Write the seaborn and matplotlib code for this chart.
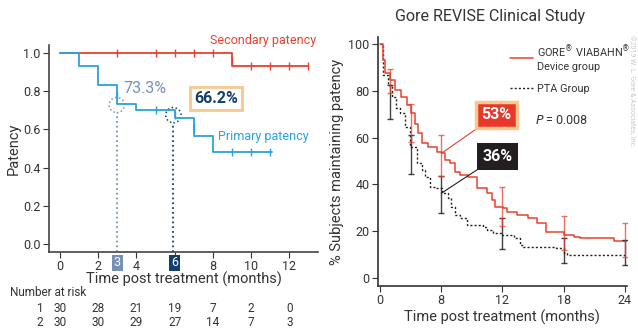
import matplotlib
matplotlib.use("Agg")
import matplotlib.pyplot as plt
import matplotlib.transforms as mtransforms
from matplotlib.patches import Ellipse
import seaborn as sns
import pandas as pd

RED = "#e8412f"
BLUE = "#2aa2dc"
BLACK = "#231f20"
NAVY = "#143f6b"
SLATE = "#7690b4"
ORANGE = "#f7c98f"

# left panel: Kaplan-Meier steps
primary_t = [0, 1, 2, 3, 4, 6, 7, 8, 11.1]
primary_s = [1.0, 0.933, 0.833, 0.733, 0.70, 0.662, 0.565, 0.483, 0.483]
primary_cens_t = [3, 5, 6, 7, 9, 10, 11]
primary_cens_s = [0.78, 0.70, 0.675, 0.61, 0.483, 0.483, 0.483]

secondary_t = [0, 9, 13]
secondary_s = [1.0, 0.932, 0.932]
secondary_cens_t = [3, 5, 6, 7, 8, 9, 10, 11, 12, 13]
secondary_cens_s = [1, 1, 1, 1, 1, 0.96, 0.932, 0.932, 0.932, 0.932]

risk_times = [0, 2, 4, 6, 8, 10, 12]
risk_row1 = [30, 28, 21, 19, 7, 2, 0]
risk_row2 = [30, 30, 29, 27, 14, 7, 3]

# right panel: REVISE curves (x in axis positions, labelled 0/8/12/18/24)
gore_t = [0, 0.26, 0.5, 1.0, 1.47, 2.1, 2.6, 3.0, 3.4, 3.76, 4.1, 4.7, 5.6,
          6.05, 6.4, 6.9, 7.35, 7.8, 8.66, 9.5, 10.5, 10.95, 11.3, 12.1,
          12.4, 13.4, 14.5, 15.4, 16.3, 18.0, 19.0, 19.6, 22.9, 24.2]
gore_v = [100, 93, 87.5, 84.6, 80.3, 77.5, 74, 70.4, 66, 61.8, 57.5, 56.1, 54,
          53.3, 50.4, 49, 45.4, 44, 43.3, 38.3, 36.2, 33.3, 30.5, 29.8,
          28.3, 26.9, 25.5, 23.4, 19.8, 18.4, 17.6, 17, 15.9, 15.9]
pta_t = [0, 0.33, 0.8, 1.15, 1.6, 1.96, 2.45, 2.94, 3.6, 4.1, 4.4, 4.9, 5.4,
         6.05, 6.7, 7.0, 7.35, 7.8, 8.5, 10.1, 10.45, 11.1, 11.9, 13.1, 13.7,
         14.05, 17.3, 18.0, 18.3, 24.2]
pta_v = [100, 86.7, 82.5, 77.5, 72.5, 70.4, 64.7, 56.1, 49, 46, 43.3, 39,
         38.3, 36.2, 34, 30.5, 27, 25.5, 22.6, 21.9, 20.5, 19.1, 18.4, 17,
         14.1, 13.1, 12.7, 10.5, 9.8, 9.8]

err_x = [1, 3, 6, 12, 18, 24]
gore_mid = [84.6, 67, 53, 30, 18.5, 16]
gore_lo = [79, 58, 43.7, 22.4, 12, 9]
gore_hi = [89.2, 74.5, 61, 39, 26.6, 23.4]
pta_mid = [76.4, 53.3, 36, 18.5, 11, 10]
pta_lo = [67.8, 44.4, 27.6, 12.3, 6.3, 5.5]
pta_hi = [82.5, 61.1, 43.7, 25.5, 17.2, 16.2]

right_ticks = [0, 6, 12, 18, 24]
right_tick_labels = ["0", "8", "12", "18", "24"]

sns.set_style("ticks")
plt.rcParams["font.family"] = ["Roboto", "DejaVu Sans"]
plt.rcParams["text.color"] = "#333333"
plt.rcParams["axes.labelcolor"] = "#333333"
plt.rcParams["xtick.color"] = "#333333"
plt.rcParams["ytick.color"] = "#333333"

fig = plt.figure(figsize=(6.38, 3.29), dpi=100)
ax1 = fig.add_axes([0.0768, 0.234, 0.4216, 0.629])
ax2 = fig.add_axes([0.5925, 0.1307, 0.390, 0.757])

# ---------- left panel ----------
sec = pd.DataFrame({"t": secondary_t, "s": secondary_s})
pri = pd.DataFrame({"t": primary_t, "s": primary_s})
sns.lineplot(data=sec, x="t", y="s", ax=ax1, color=RED, lw=1.3,
             drawstyle="steps-post")
sns.lineplot(data=pri, x="t", y="s", ax=ax1, color=BLUE, lw=1.3,
             drawstyle="steps-post")
sns.scatterplot(x=secondary_cens_t, y=secondary_cens_s, ax=ax1, marker="|",
                color=RED, s=40, linewidth=1)
sns.scatterplot(x=primary_cens_t, y=primary_cens_s, ax=ax1, marker="|",
                color=BLUE, s=40, linewidth=1)

ax1.set_xlim(-0.58, 13.5)
ax1.set_ylim(-0.042, 1.042)
ax1.set_xticks(risk_times)
ax1.set_xticklabels(["0", "2", "4", "", "8", "10", "12"])
ax1.set_yticks([0, 0.2, 0.4, 0.6, 0.8, 1.0])
ax1.set_yticklabels(["0.0", "0.2", "0.4", "0.6", "0.8", "1.0"])
ax1.tick_params(labelsize=9, length=4, width=0.8, pad=2)
ax1.set_xlabel("Time post treatment (months)", fontsize=10.5, labelpad=-1)
ax1.set_ylabel("Patency", fontsize=10.5, labelpad=2)
sns.despine(ax=ax1)
for sp in ax1.spines.values():
    sp.set_color("#444444")
    sp.set_linewidth(1.2)

# highlight circles and guide lines at 3 and 6 months
for x0, y0, col in [(2.97, 0.728, SLATE), (5.93, 0.675, NAVY)]:
    ax1.add_patch(Ellipse((x0, y0), 0.8, 0.08, fill=False, ls=":",
                          lw=1.1, edgecolor=col))
    ax1.vlines(x0, -0.042, y0 - 0.04, colors=col, linestyles=":", lw=1.3)
ax1.text(3, -0.065, "3", color="white", fontsize=9, ha="center", va="top",
         bbox=dict(boxstyle="square,pad=0.15", fc=SLATE, ec="none"))
ax1.text(6, -0.065, "6", color="white", fontsize=9, ha="center", va="top",
         bbox=dict(boxstyle="square,pad=0.15", fc=NAVY, ec="none"))

ax1.text(3.3, 0.815, "73.3%", color=SLATE, fontsize=11.5, va="center")
ax1.text(8.15, 0.76, "66.2%", color=NAVY, fontsize=11.5, fontweight="bold",
         ha="center", va="center",
         bbox=dict(boxstyle="square,pad=0.25", fc="white", ec=ORANGE, lw=2))
ax1.text(13.4, 1.065, "Secondary patency", color=RED, fontsize=9,
         ha="right", va="center")
ax1.text(13, 0.565, "Primary patency", color=BLUE, fontsize=9,
         ha="right", va="center")

# number at risk table
trans = mtransforms.blended_transform_factory(ax1.transData, ax1.transAxes)
fig.text(10 / 638, 1 - 293 / 329, "Number at risk", fontsize=8.5,
         va="center")
ax1.text(-1.05, -0.275, "1", transform=trans, fontsize=8.5, ha="center",
         va="center")
ax1.text(-1.05, -0.343, "2", transform=trans, fontsize=8.5, ha="center",
         va="center")
for t, a, b in zip(risk_times, risk_row1, risk_row2):
    ax1.text(t, -0.275, str(a), transform=trans, fontsize=8.5, ha="center",
             va="center")
    ax1.text(t, -0.343, str(b), transform=trans, fontsize=8.5, ha="center",
             va="center")

# ---------- right panel ----------
gore = pd.DataFrame({"t": gore_t, "v": gore_v})
pta = pd.DataFrame({"t": pta_t, "v": pta_v})
sns.lineplot(data=pta, x="t", y="v", ax=ax2, color=BLACK, lw=1,
             linestyle=(0, (1.5, 1.5)), drawstyle="steps-post")
sns.lineplot(data=gore, x="t", y="v", ax=ax2, color=RED, lw=1.1,
             drawstyle="steps-post")
ax2.errorbar(err_x, pta_mid,
             yerr=[[m - l for m, l in zip(pta_mid, pta_lo)],
                   [h - m for m, h in zip(pta_mid, pta_hi)]],
             fmt="none", ecolor=BLACK, elinewidth=1, capsize=2.5,
             capthick=1, alpha=0.85)
ax2.errorbar(err_x, gore_mid,
             yerr=[[m - l for m, l in zip(gore_mid, gore_lo)],
                   [h - m for m, h in zip(gore_mid, gore_hi)]],
             fmt="none", ecolor=RED, elinewidth=1, capsize=2.5,
             capthick=1, alpha=0.75)

ax2.set_xlim(-0.2, 24.2)
ax2.set_ylim(-3.4, 103)
ax2.set_xticks(right_ticks)
ax2.set_xticklabels(right_tick_labels)
ax2.set_yticks([0, 20, 40, 60, 80, 100])
ax2.tick_params(labelsize=9, length=4, width=0.8, pad=2)
ax2.set_xlabel("Time post treatment (months)", fontsize=10.5, labelpad=2)
ax2.set_ylabel("% Subjects maintaining patency", fontsize=10.5, labelpad=3)
sns.despine(ax=ax2)
for sp in ax2.spines.values():
    sp.set_color("#333333")
    sp.set_linewidth(1.2)

ax2.annotate("53%", xy=(6, 53.2), xytext=(11.4, 69.7), color="white",
             fontsize=11.5, fontweight="bold", ha="center", va="center",
             bbox=dict(boxstyle="square,pad=0.35", fc="#e8382b", ec=ORANGE,
                       lw=2.5),
             arrowprops=dict(arrowstyle="-", color=RED, lw=0.8,
                             shrinkA=0, shrinkB=0))
ax2.annotate("36%", xy=(6, 36.2), xytext=(11.5, 51.9), color="white",
             fontsize=11.5, fontweight="bold", ha="center", va="center",
             bbox=dict(boxstyle="square,pad=0.35", fc=BLACK, ec="none"),
             arrowprops=dict(arrowstyle="-", color=BLACK, lw=0.8,
                             shrinkA=0, shrinkB=0))

leg_handles = [
    plt.Line2D([], [], color=RED, lw=1.1),
    plt.Line2D([], [], color=BLACK, lw=1, linestyle=(0, (1.5, 1.5))),
]
ax2.legend(leg_handles,
           ["GORE$^{\u00ae}$ VIABAHN$^{\u00ae}$\nDevice group", "PTA Group"],
           loc="upper left", bbox_to_anchor=(510 / 638, 1 - 44 / 329),
           bbox_transform=fig.transFigure, frameon=False, fontsize=7.8,
           handlelength=2.1, handletextpad=0.35, labelspacing=1.1,
           borderpad=0, borderaxespad=0)
ax2.text(535 / 638, 1 - 120 / 329, "$\\it{P}$ = 0.008", transform=fig.transFigure,
         fontsize=9, va="center")

fig.text(490 / 638, 1 - 17 / 329, "Gore REVISE Clinical Study", fontsize=11.5,
         ha="center", va="center")
fig.text(631 / 638, 1 - 35 / 329, "\u00a92019 W. L. Gore & Associates, Inc.",
         rotation=270, fontsize=5, color="#c8c8c8", ha="center", va="top")

fig.savefig("out.png", dpi=100)
